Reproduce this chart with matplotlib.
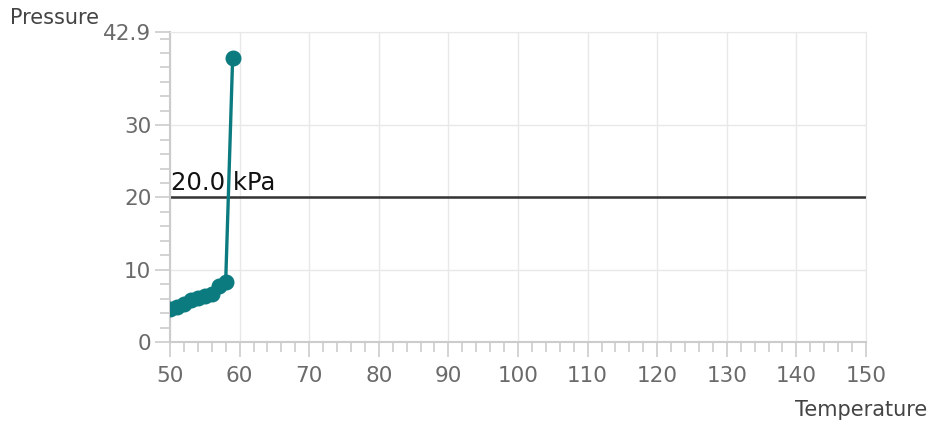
import numpy as np
import matplotlib.pyplot as plt
from matplotlib.ticker import MultipleLocator

temperature = [50, 51, 52, 53, 54, 55, 56, 57, 58, 59]
pressure = [4.6, 4.9, 5.3, 5.8, 6.1, 6.3, 6.7, 7.7, 8.3, 39.3]
y_ticks = [0, 10, 20, 30, 42.9]
x_ticks = list(range(50, 151, 10))
threshold = 20.0

teal = '#0b7b80'
gray = '#6a6a6a'

plt.rcParams['font.family'] = 'DejaVu Sans'
fig = plt.figure(figsize=(9.31, 4.26), dpi=100)
ax = fig.add_axes([170 / 931, 1 - 342 / 426, 696 / 931, 310 / 426])

ax.plot(temperature, pressure, color=teal, lw=2.4, marker='o', ms=10.5, zorder=3)
ax.axhline(threshold, color='#333333', lw=1.8, zorder=2)
ax.text(50.2, threshold + 0.4, '%.1f kPa' % threshold, fontsize=17.5, color='#111111',
        va='bottom', ha='left')

ax.set_xlim(50, 150)
ax.set_ylim(0, 42.9)
ax.set_xticks(x_ticks)
ax.set_yticks(y_ticks)
ax.set_yticklabels(['0', '10', '20', '30', '42.9'])
ax.xaxis.set_minor_locator(MultipleLocator(2))
ax.yaxis.set_minor_locator(MultipleLocator(2))
ax.grid(True, which='major', color='#e8e8e8', lw=1)
ax.set_axisbelow(True)

for s in ['top', 'right']:
    ax.spines[s].set_color('#e8e8e8')
for s in ['left', 'bottom']:
    ax.spines[s].set_color('#cccccc')
    ax.spines[s].set_linewidth(1.5)
ax.tick_params(which='major', length=10.5, color='#cccccc', width=1.2, labelsize=15.5, labelcolor=gray)
ax.tick_params(which='minor', length=7, color='#cccccc', width=1.2)
ax.tick_params(axis='x', pad=7)
ax.tick_params(axis='y', pad=3)

fig.text(10 / 931, 1 - 18 / 426, 'Pressure', fontsize=15, color='#444444', va='center', ha='left')
fig.text(927 / 931, 1 - 410 / 426, 'Temperature', fontsize=15, color='#444444', va='center', ha='right')

fig.savefig('out.png', dpi=100)
